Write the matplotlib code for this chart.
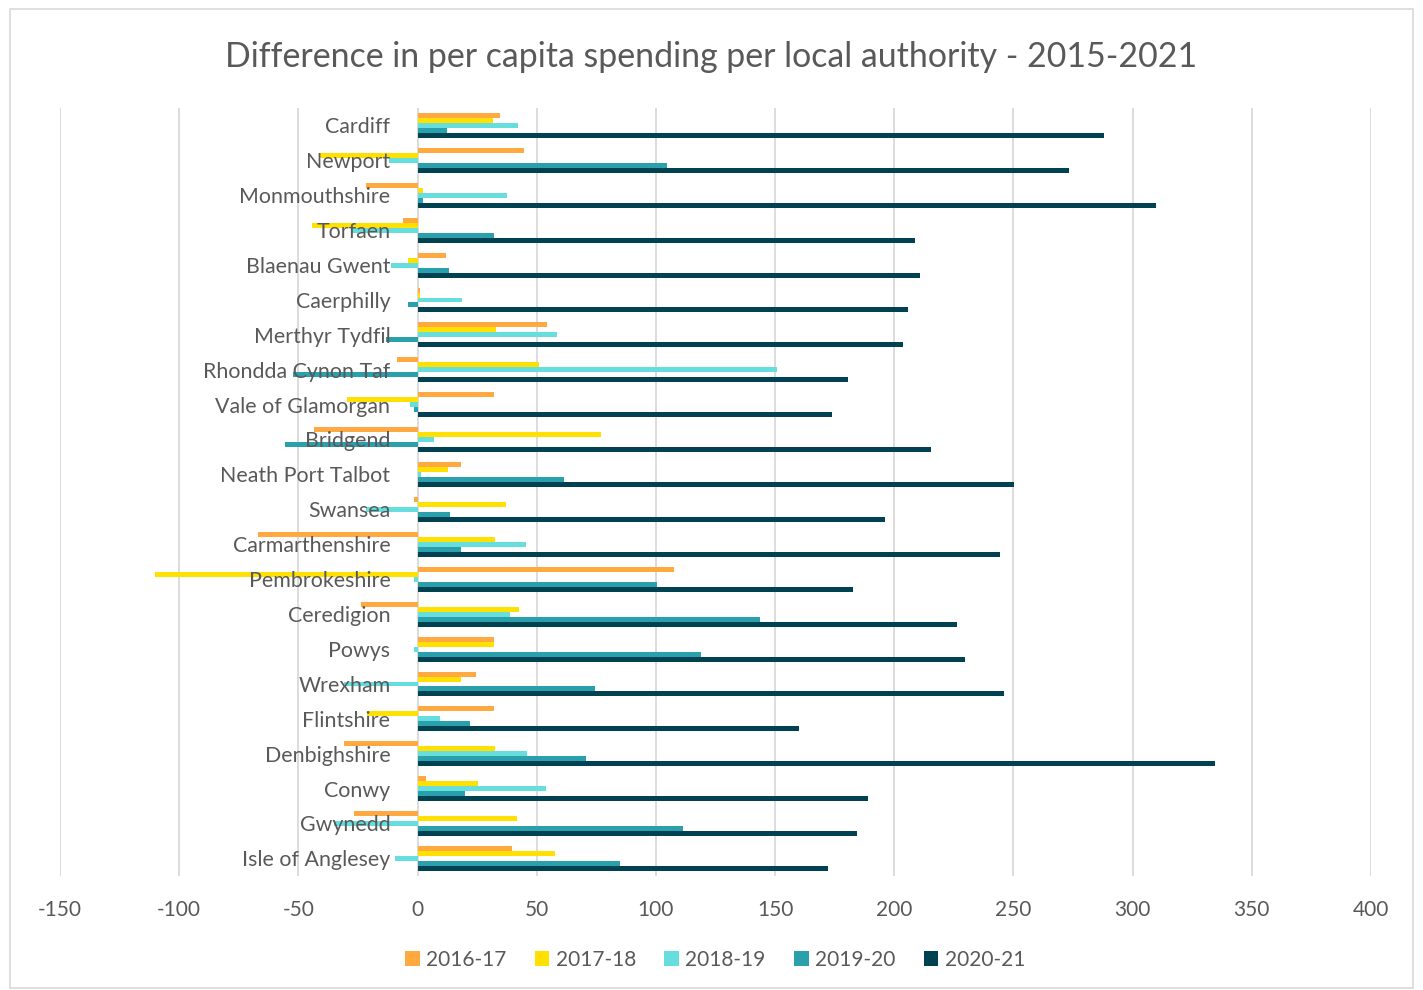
import matplotlib.pyplot as plt
import numpy as np
from matplotlib.patches import Rectangle

# Datos
authorities = ['Cardiff', 'Newport', 'Monmouthshire', 'Torfaen', 'Blaenau Gwent',
               'Caerphilly', 'Merthyr Tydfil', 'Rhondda Cynon Taf', 'Vale of Glamorgan',
               'Bridgend', 'Neath Port Talbot', 'Swansea', 'Carmarthenshire',
               'Pembrokeshire', 'Ceredigion', 'Powys', 'Wrexham', 'Flintshire',
               'Denbighshire', 'Conwy', 'Gwynedd', 'Isle of Anglesey']

y2016_17 = [34.6, 44.8, -21.7, -6.3, 11.9, 1.0, 54.2, -8.7, 32.1, -43.4, 18.2,
            -1.4, -66.9, 107.4, -23.9, 32.2, 24.5, 32.1, -30.8, 3.5, -26.6, 39.7]
y2017_18 = [31.8, -41.3, 2.4, -44.1, -3.9, 1.0, 32.9, 51.1, -29.5, 76.8, 12.9,
            37.1, 32.6, -110.3, 42.6, 32.0, 18.2, -21.0, 32.5, 25.5, 41.8, 57.7]
y2018_19 = [42.2, -11.9, 37.4, -28.0, -11.0, 18.5, 58.4, 151.0, -3.2, 6.9, 1.4,
            -21.7, 45.4, -1.5, 38.9, -1.5, -30.8, 9.5, 46.0, 53.8, -35.0, -9.4]
y2019_20 = [12.2, 104.5, 2.4, 31.9, 13.2, -3.9, -13.3, -52.1, -1.4, -55.6, 61.6,
            13.7, 18.2, 100.6, 143.5, 118.8, 74.3, 22.1, 70.5, 19.9, 111.2, 85.1]
y2020_21 = [287.9, 273.4, 309.9, 208.9, 211.0, 205.8, 203.6, 180.6, 173.8, 215.4,
            250.1, 196.1, 244.3, 182.6, 226.2, 229.6, 246.1, 159.9, 334.7, 188.9,
            184.3, 172.1]

series = [y2016_17, y2017_18, y2018_19, y2019_20, y2020_21]
labels = ['2016-17', '2017-18', '2018-19', '2019-20', '2020-21']
colors = ['#FFA940', '#FFE000', '#66DEDE', '#2AA0AC', '#004252']

plt.rcParams['font.family'] = ['Lato', 'DejaVu Sans']
gris = '#595959'

fig = plt.figure(figsize=(14.23, 9.9), dpi=100)
ax = fig.add_axes([60/1423, 1 - 876/990, (1371 - 60)/1423, (876 - 108)/990])

y = np.arange(len(authorities))
h = 0.143
for j, vals in enumerate(series):
    ax.barh(y + (j - 2) * h, vals, height=h, color=colors[j], label=labels[j], zorder=2)

# Rejilla
ticks = np.arange(-150, 401, 50)
for t in ticks:
    if t != 0:
        ax.axvline(t, color='#d9d9d9', linewidth=1.3, zorder=0)
ax.axvline(0, color='#d9d9d9', linewidth=1.3, zorder=1)

ax.set_xlim(-150, 400)
ax.set_ylim(len(authorities) - 0.5, -0.5)
ax.set_xticks(ticks)
ax.set_xticklabels([str(t) for t in ticks], color=gris, fontsize=15)
ax.tick_params(axis='x', length=0, pad=17)
ax.set_yticks([])
for s in ax.spines.values():
    s.set_visible(False)

# Nombres junto al eje cero
for i, name in enumerate(authorities):
    ax.annotate(name, xy=(0, i), xytext=(-19.5, -1.3), textcoords='offset points',
                ha='right', va='center', fontsize=15.4, color=gris, zorder=5)

fig.text(0.4997, 0.9424, 'Difference in per capita spending per local authority - 2015-2021',
         ha='center', va='center', fontsize=24.4, color=gris)

fig.legend(loc='center', bbox_to_anchor=(0.5025, 0.0303), ncol=5, frameon=False,
           fontsize=15, handlelength=0.7, handleheight=0.7, handletextpad=0.3,
           columnspacing=1.37, labelcolor=gris)

fig.patches.append(Rectangle((10/1423, 2/990), 1403/1423, 979/990, transform=fig.transFigure,
                             fill=False, edgecolor='#d9d9d9', linewidth=1.2))

plt.savefig('out.png', dpi=100)
